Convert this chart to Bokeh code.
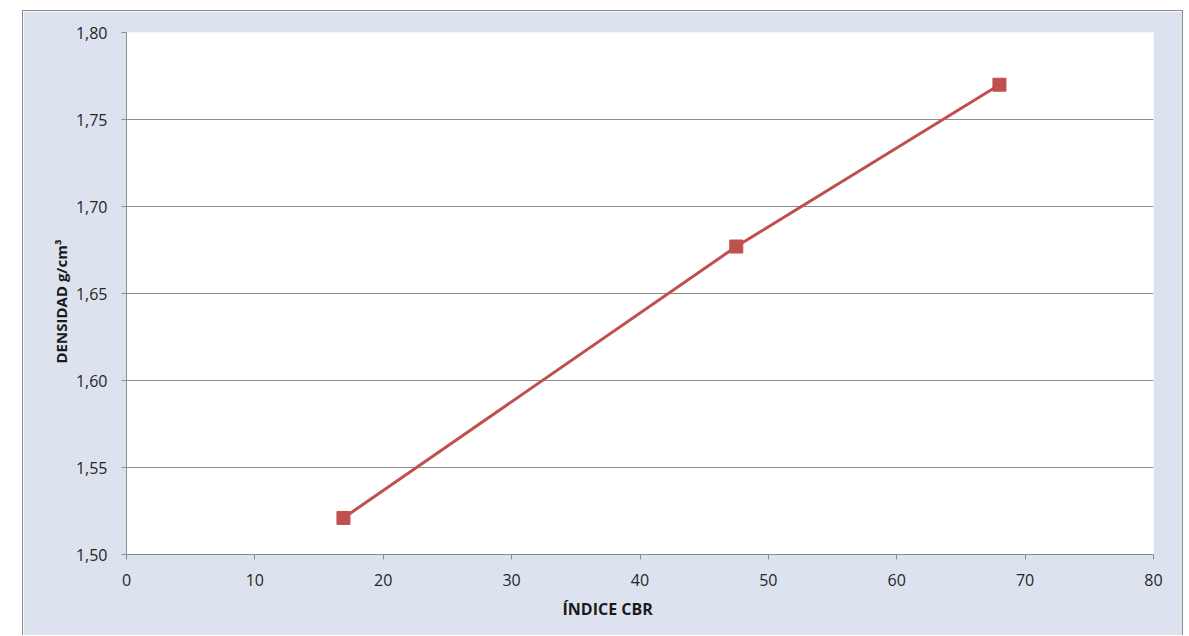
from bokeh.plotting import figure
from bokeh.models import FixedTicker, Range1d, Title
from bokeh.embed import file_html
from bokeh.resources import INLINE

# CBR index vs dry density
cbr = [16.9, 47.5, 68.0]
densidad = [1.521, 1.677, 1.770]

x_ticks = [0, 10, 20, 30, 40, 50, 60, 70, 80]
y_ticks = [1.50, 1.55, 1.60, 1.65, 1.70, 1.75, 1.80]
y_tick_labels = ["1,50", "1,55", "1,60", "1,65", "1,70", "1,75", "1,80"]

x_title = "ÍNDICE CBR"
y_title = "DENSIDAD g/cm³"

BG = "#DCE3EF"
GRID = "#8C8C8C"
RED = "#C0504D"
FONT = "Open Sans"

p = figure(width=1161, height=625, output_backend="svg", toolbar_location=None,
           x_range=Range1d(0, 80), y_range=Range1d(1.50, 1.80),
           min_border_left=103, min_border_right=31, min_border_top=21, min_border_bottom=82,
           background_fill_color="white", border_fill_color=BG, outline_line_color=None)
p.margin = (10, 0, 0, 22)
p.styles = {"border-left": "1px solid #8C8C8C", "border-top": "1px solid #8C8C8C",
            "border-right": "1px solid #8C8C8C"}

p.xaxis.ticker = FixedTicker(ticks=x_ticks)
p.yaxis.ticker = FixedTicker(ticks=y_ticks)
p.yaxis.major_label_overrides = {t: l for t, l in zip(y_ticks, y_tick_labels)}

for ax in (p.xaxis, p.yaxis):
    ax.axis_line_color = GRID
    ax.major_tick_line_color = GRID
    ax.major_tick_in = 0
    ax.major_tick_out = 5
    ax.minor_tick_line_color = None
    ax.major_label_text_font = FONT
    ax.major_label_text_font_size = "16px"
    ax.major_label_text_color = "#262626"

p.xaxis.major_label_standoff = 14
p.yaxis.major_label_standoff = 14

p.xgrid.grid_line_color = None
p.ygrid.grid_line_color = GRID
p.ygrid.grid_line_width = 1

# axis titles as side panels, offset from the frame edge
p.add_layout(Title(text=x_title, align="left", offset=436, standoff=14,
                   text_font=FONT, text_font_size="16px", text_font_style="bold",
                   text_color="#1a1a1a"), "below")
p.add_layout(Title(text=y_title, align="left", offset=191, standoff=4,
                   text_font=FONT, text_font_size="15px", text_font_style="bold",
                   text_color="#1a1a1a"), "left")

p.line(cbr, densidad, line_color=RED, line_width=3)
p.scatter(cbr, densidad, marker="square", size=13, fill_color=RED, line_color=RED)

open("out.html", "w").write(file_html(p, INLINE))
